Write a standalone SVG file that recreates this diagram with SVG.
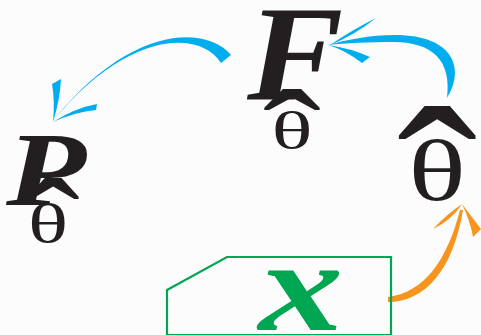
<svg xmlns="http://www.w3.org/2000/svg" width="481" height="335" viewBox="0 0 481 335">
<style>
.sym{font-family:"Liberation Serif",serif;fill:#231f20;font-style:italic;font-weight:bold}
.hat{font-family:"Liberation Serif",serif;fill:#231f20;text-anchor:middle}
.th{font-family:"Liberation Serif",serif;fill:#231f20;text-anchor:middle}
.blue{fill:#00aeef}
.orange{fill:#f7941d}
</style>
<rect width="481" height="335" fill="#fcfcfc"/>
<g id="connectors">
<g id="F-to-P">
<path class="blue" d="M231,55 C205,25 130,25 53,121 C128,30 200,30 221,63 Z"/>
<path class="blue" d="M52,84 L61,79 Q60,100 53,122 Q55,100 52,84 Z"/>
<path class="blue" d="M97,104 L96,110 Q75,112 53,122 Q75,108 97,104 Z"/>
</g>
<g id="theta-to-F">
<path class="blue" d="M447,98 C465,70 455,35 395,35 C370,35 345,40 328,45 C345,43 370,42 393,42 C432,42 452,60 447,98 Z"/>
<path class="blue" d="M376,18 Q355,35 330,45 Q352,30 376,18 Z"/>
<path class="blue" d="M370,57 L362,63 Q345,50 328,45 Q350,48 370,57 Z"/>
</g>
<g id="x-to-theta">
<path class="orange" d="M388,297 C425,292 447,260 460,210 L463,210 C453,270 425,302 388,302 Z"/>
<path class="orange" d="M462,204 L481,229 L473,237 Q470,220 462,204 Z"/>
<path class="orange" d="M462,204 Q452,220 433,229 Q447,214 462,204 Z"/>
</g>
</g>
<g id="node-F">
<text class="sym" transform="translate(247,99) scale(1.07,1)" font-size="135">F</text>
<text class="hat" transform="translate(292,187) scale(1.25,1)" font-size="140">ˆ</text>
<text class="th" transform="translate(292,148) scale(1.65,1)" font-size="52">θ</text>
</g>
<g id="node-P">
<text class="sym" transform="translate(6,205) scale(1.25,1)" font-size="105">P</text>
<text class="hat" transform="translate(53,276) scale(1.15,1)" font-size="140">ˆ</text>
<text class="th" transform="translate(48,242) scale(1.55,1)" font-size="54">θ</text>
</g>
<g id="node-theta">
<text class="hat" transform="translate(437,260) scale(1.1,1)" font-size="220">ˆ</text>
<text class="th" transform="translate(437,200) scale(1.4,1)" font-size="86">θ</text>
</g>
<g id="node-x">
<polygon points="167,290 227,257 391,257 391,335 167,335" fill="none" stroke="#00a651" stroke-width="2.2"/>
<text transform="translate(301,330) scale(1.3,1)" font-size="130" text-anchor="middle" style="font-family:'Liberation Serif',serif;font-style:italic;font-weight:bold;fill:#00a651">x</text>
</g>
</svg>
